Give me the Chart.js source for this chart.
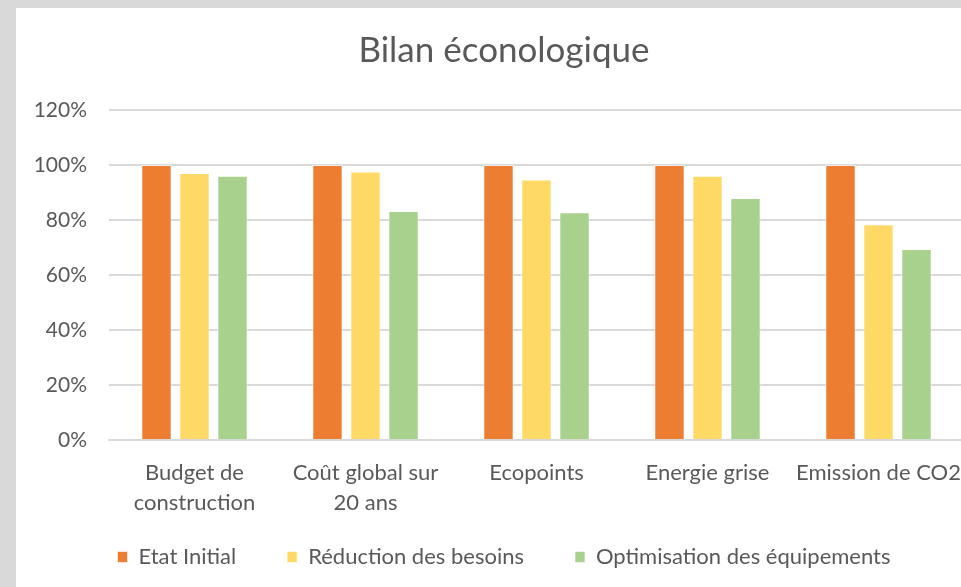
<!DOCTYPE html>
<html>
<head>
<meta charset="utf-8">
<script src="https://cdn.jsdelivr.net/npm/chart.js@4"></script>
<style>
  html, body { margin: 0; padding: 0; background: #d9d9d9; overflow: hidden; width: 961px; height: 587px; }
  #box { position: absolute; left: 16px; top: 8px; width: 980px; height: 579px; background: #fff; }
</style>
</head>
<body>
<div id="box"><canvas id="chart" width="980" height="579"></canvas></div>
<script>
// Bilan éconologique (in %)
const categories = [
  ["Budget de", "construction"],
  ["Coût global sur", "20 ans"],
  "Ecopoints",
  "Energie grise",
  "Emission de CO2"
];
const seriesNames = ["Etat Initial", "Réduction des besoins", "Optimisation des équipements"];
const etatInitial = [100, 100, 100, 100, 100];
const reductionBesoins = [97.1, 97.6, 94.7, 96.1, 78.5];
const optimisationEquip = [96.1, 83.3, 82.8, 88.0, 69.5];
const yTicks = ["0%", "20%", "40%", "60%", "80%", "100%", "120%"];

const colors = ["#ed7d31", "#ffd966", "#a9d18e"];
const textColor = "#595959";
const font = "Lato, 'Open Sans', sans-serif";

Chart.defaults.font.family = font;
Chart.defaults.color = textColor;

// axis labels are clipped to the scale box, widen the boxes once layout is done
const unclip = {
  id: "unclip",
  afterLayout(chart) {
    chart.scales.y.left = 0;
    chart.scales.x.bottom = chart.height;
  }
};

const ctx = document.getElementById("chart").getContext("2d");
new Chart(ctx, {
  type: "bar",
  data: {
    labels: categories,
    datasets: [etatInitial, reductionBesoins, optimisationEquip].map((d, i) => ({
      label: seriesNames[i],
      data: d,
      backgroundColor: colors[i],
      borderColor: "rgba(255,255,255,0.6)",
      borderWidth: 1,
      categoryPercentage: 0.667,
      barPercentage: 0.8
    }))
  },
  plugins: [unclip],
  options: {
    responsive: false,
    animation: false,
    devicePixelRatio: 1,
    layout: { padding: { left: 28, right: 32, top: 0, bottom: 9 } },
    plugins: {
      title: {
        display: true,
        text: "Bilan éconologique",
        color: textColor,
        font: { size: 35, weight: "normal" },
        padding: { top: 22, bottom: 38 }
      },
      legend: {
        position: "bottom",
        labels: {
          boxWidth: 10,
          boxHeight: 11,
          padding: 51,
          color: textColor,
          font: { size: 22 }
        }
      },
      tooltip: { enabled: false }
    },
    scales: {
      x: {
        afterFit: s => { s.height = 55; },
        grid: { display: false, drawTicks: false },
        border: { color: "#d9d9d9", width: 2 },
        ticks: { padding: 18, color: textColor, font: { size: 22, lineHeight: 1.36 }, maxRotation: 0, autoSkip: false }
      },
      y: {
        min: 0,
        max: 120,
        afterFit: s => { s.width = 65; },
        grid: { color: "#d9d9d9", lineWidth: 2, drawTicks: false },
        border: { display: false },
        ticks: {
          stepSize: 20,
          padding: 22,
          color: textColor,
          font: { size: 21 },
          callback: (v, i) => yTicks[i]
        }
      }
    }
  }
});
</script>
</body>
</html>
